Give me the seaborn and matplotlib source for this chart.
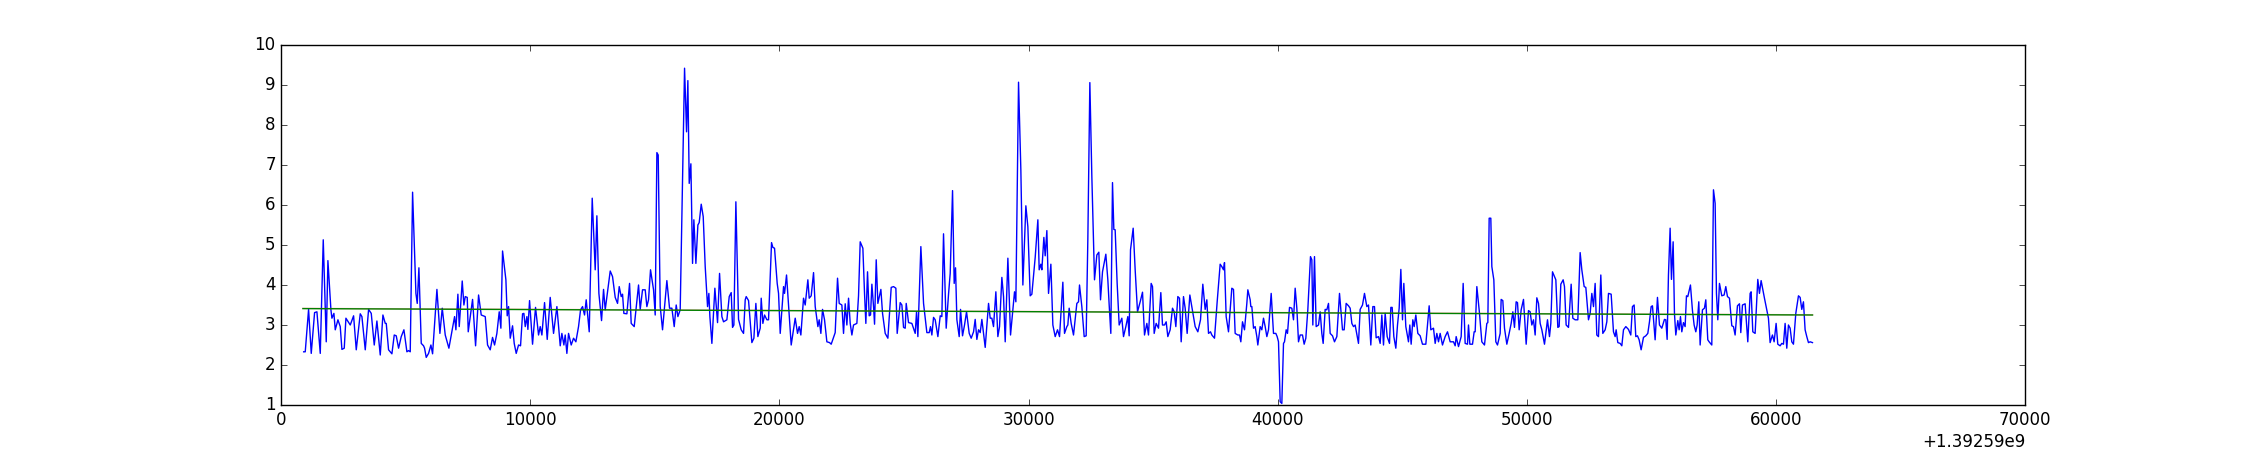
import matplotlib
matplotlib.use("Agg")
import matplotlib.pyplot as plt
from matplotlib.ticker import ScalarFormatter
import pandas as pd
import seaborn as sns

plt.style.use("classic")

# unix time base and seconds after it
t0 = 1392590000
seconds = [
    900, 963, 1097, 1204, 1338, 1432, 1566, 1686, 1806, 1873, 1994, 2034, 2114, 2168, 2275, 2368,
    2435, 2529, 2596, 2770, 2904, 3011, 3171, 3238, 3372, 3506, 3613, 3733, 3840, 3974, 4081, 4175,
    4215, 4308, 4442, 4536, 4616, 4710, 4817, 4924, 5044, 5111, 5178, 5272, 5406, 5459, 5526, 5620,
    5713, 5753, 5820, 5914, 6008, 6075, 6249, 6369, 6463, 6583, 6730, 6958, 7011, 7091, 7145, 7265,
    7332, 7386, 7466, 7506, 7680, 7801, 7921, 8028, 8189, 8282, 8389,
    8482, 8563, 8656, 8750, 8817, 8884, 9018, 9071, 9125, 9192, 9285, 9352, 9432, 9526, 9606, 9687,
    9740, 9794, 9861, 9901, 9968, 10088, 10208, 10329, 10396, 10463, 10570, 10677, 10797, 10931,
    10998, 11065, 11199, 11265, 11346, 11399, 11466, 11533, 11640, 11734, 11827, 11934, 12015, 12095,
    12175, 12242, 12363, 12483, 12603, 12670, 12751, 12858, 12938, 13005, 13206, 13299, 13406, 13500,
    13567, 13647, 13701, 13754, 13875, 13982, 14048, 14169, 14343, 14410, 14503, 14610, 14677, 14744,
    14824, 14945, 15012, 15079, 15132, 15213, 15306, 15480, 15587, 15681, 15775, 15855, 15922, 16015,
    16190, 16270, 16323, 16377, 16444, 16511, 16564, 16645, 16725, 16778, 16859, 16939, 17019, 17113,
    17166, 17207, 17287, 17407, 17514, 17595, 17688, 17755, 17889, 17983, 18063, 18116, 18170, 18250,
    18357, 18464, 18558, 18625, 18665, 18759, 18892, 18973, 19053, 19133, 19227, 19267, 19334, 19401,
    19495, 19561, 19682, 19735, 19802, 19909, 19963, 20030, 20164, 20204, 20284, 20364, 20471, 20632,
    20725, 20792, 20859, 20966, 21033, 21140, 21194, 21274, 21368, 21435, 21542, 21595, 21662, 21729,
    21809, 21903, 22010, 22077, 22237, 22331, 22398, 22505, 22572, 22639, 22706, 22773, 22840, 22907,
    22973, 23107, 23174, 23241, 23348, 23415, 23468, 23535, 23602,
    23656, 23710, 23777, 23817, 23884, 23950, 24071, 24138, 24245, 24352, 24486, 24579, 24673, 24726,
    24847, 24914, 24981, 25048, 25088, 25181, 25315, 25449, 25503, 25556, 25676, 25784, 25917, 26011,
    26064, 26118, 26185, 26252, 26359, 26453, 26519, 26586, 26693, 26787, 26854, 26948, 27014, 27068,
    27122, 27215, 27269, 27349, 27429, 27510, 27617, 27697, 27791, 27857, 27924, 27991, 28058, 28125,
    28259, 28393, 28460, 28526, 28593, 28687, 28767, 28834, 28928, 28995, 29062, 29169, 29276, 29356,
    29436, 29490, 29597, 29690, 29771, 29891, 29971, 30065, 30132, 30266, 30373, 30426, 30493, 30533,
    30614, 30667, 30734, 30801, 30895, 30975, 31069, 31162, 31243,
    31376, 31443, 31536, 31576, 31630, 31710, 31804, 31938, 32005, 32045, 32138, 32232, 32312, 32379,
    32460, 32540, 32647, 32741, 32821, 32888, 32968, 33102, 33182, 33236, 33302, 33369, 33423, 33476,
    33556, 33637, 33744, 33811, 33905, 33985, 34038, 34092, 34199, 34279, 34373, 34480, 34574, 34654,
    34748, 34814, 34921, 34975, 35042, 35122, 35216, 35309, 35376, 35457, 35524, 35590, 35684, 35778,
    35845, 35912, 35992, 36059, 36126, 36219, 36286, 36366, 36474, 36554, 36688, 36795, 36902, 36995,
    37089, 37156, 37223, 37303, 37357, 37464, 37571, 37691, 37758, 37825, 37865, 37932, 38026, 38159,
    38226, 38293, 38400, 38467, 38521, 38588, 38668, 38762, 38802, 38896,
    38922, 38963, 39030, 39096, 39163, 39203, 39297, 39364, 39431, 39498, 39565, 39632, 39739, 39832,
    39926, 39979, 40033, 40100, 40167, 40234, 40274, 40341, 40394, 40475, 40568, 40635, 40702, 40769,
    40836, 40903, 40996, 41063, 41130, 41210, 41317, 41371, 41411, 41478, 41545, 41639, 41706, 41772,
    41826, 41906, 41973, 42040, 42107, 42201, 42281, 42375, 42482, 42602, 42669, 42749, 42843, 42910,
    42977, 43044, 43110, 43244, 43311, 43405, 43485, 43579, 43646, 43739, 43820, 43886, 43953, 44047,
    44114, 44181, 44248, 44315, 44395, 44489, 44542, 44596, 44663, 44743, 44810, 44877, 44944, 45011,
    45064, 45144, 45251, 45305, 45358, 45425, 45479, 45546, 45626, 45720, 45813, 45947, 46081, 46148,
    46255, 46322, 46389, 46456, 46522,
    46616, 46723, 46817, 46924, 47058, 47125, 47165, 47259, 47366, 47446, 47526, 47620, 47660, 47714,
    47821, 47887, 47928, 47995, 48102, 48195, 48302, 48396, 48436, 48490, 48556, 48597, 48677, 48757,
    48824, 48931, 48971, 49038, 49105, 49199, 49292, 49373, 49440, 49506, 49573, 49627, 49694, 49774,
    49868, 49975, 50068, 50135, 50202, 50269, 50336, 50403, 50470, 50537, 50604, 50711, 50831, 50911,
    50965, 51032, 51112, 51166, 51246, 51299, 51366, 51460, 51513, 51580, 51674, 51781, 51848, 51942,
    52049, 52142, 52209, 52303, 52370, 52477, 52544, 52611, 52678, 52744, 52811, 52878, 52972, 53052,
    53146, 53213, 53280, 53387, 53480, 53547, 53587, 53654, 53748, 53815, 53882, 53976, 54082, 54149,
    54175, 54242, 54309, 54376, 54443, 54510, 54590, 54684, 54778, 54858, 54925, 54992, 55045, 55152,
    55246, 55326, 55420, 55527, 55580, 55634, 55687, 55754, 55808, 55875, 55928, 55982, 56062, 56116,
    56169, 56223, 56290, 56356, 56410, 56463, 56570, 56651, 56718, 56785, 56838, 56905, 56959, 57052,
    57132, 57186, 57266, 57320, 57427, 57494, 57561, 57614, 57668, 57735, 57828, 57922, 57989, 58056,
    58136, 58230, 58297, 58363, 58457, 58537, 58591, 58658, 58765, 58872, 58966, 59006, 59073, 59166,
    59273, 59340, 59407, 59541, 59635, 59701, 59768, 59862, 59929, 60009, 60076, 60170, 60237, 60304,
    60370, 60437, 60504, 60571, 60638, 60705, 60799, 60906, 60973, 61039, 61106, 61173, 61240, 61307,
    61374, 61468,
]
rate = [
    2.33, 2.33, 3.39, 2.29, 3.31, 3.33, 2.29, 5.13, 2.58, 4.61, 3.38, 3.17, 3.29, 2.88, 3.13, 2.96,
    2.39, 2.42, 3.17, 3.00, 3.23, 2.38, 3.28, 3.21, 2.38, 3.39, 3.29, 2.50, 3.10, 2.25, 3.25, 3.04,
    3.04, 2.38, 2.28, 2.75, 2.73, 2.42, 2.71, 2.88, 2.33, 2.36, 2.33, 6.32, 3.79, 3.54, 4.43, 2.54,
    2.48, 2.42, 2.19, 2.29, 2.50, 2.28, 3.89, 2.79, 3.42, 2.75, 2.42, 3.21, 2.88, 3.77, 2.96, 4.10,
    3.50, 3.71, 3.69, 2.83, 3.64, 2.48, 3.75, 3.25, 3.21, 2.50, 2.38,
    2.69, 2.50, 2.79, 3.33, 2.92, 4.85, 4.13, 3.23, 3.46, 2.67, 2.98, 2.54, 2.29, 2.50, 2.48, 3.28,
    3.29, 2.96, 3.21, 2.89, 3.61, 2.52, 3.44, 2.75, 2.96, 2.75, 3.56, 2.64, 3.69, 2.79,
    3.13, 3.46, 2.48, 2.79, 2.50, 2.75, 2.29, 2.79, 2.50, 2.67, 2.58, 2.96, 3.38, 3.46,
    3.25, 3.63, 2.83, 6.17, 4.38, 5.73, 3.79, 3.11, 3.89, 3.38, 4.35, 4.21, 3.69, 3.54,
    3.96, 3.71, 3.77, 3.29, 3.28, 4.04, 3.04, 2.96, 4.00, 3.39, 3.88, 3.88, 3.46, 3.63,
    4.38, 3.88, 3.25, 7.31, 7.25, 3.46, 2.88, 4.11, 3.42, 3.42, 2.96, 3.50, 3.21, 3.38,
    9.42, 7.83, 9.11, 6.54, 7.03, 4.54, 5.63, 4.54, 5.50, 5.56, 6.02, 5.71, 4.46, 3.46,
    3.79, 3.21, 2.54, 3.92, 3.06, 4.29, 3.21, 3.08, 3.13, 3.71, 3.81, 2.94, 3.00, 6.08,
    3.14, 2.88, 2.79, 3.63, 3.71, 3.61, 2.56, 2.67, 3.54, 2.71, 2.92, 3.67, 3.04, 3.25,
    3.13, 3.13, 5.06, 4.94, 4.92, 4.04, 3.79, 2.79, 3.96, 3.79, 4.25, 3.50, 2.50, 3.17,
    2.79, 2.96, 2.75, 3.67, 3.50, 4.13, 3.67, 3.73, 4.31, 3.46, 2.96, 3.13, 2.79, 3.39,
    3.13, 2.58, 2.56, 2.52, 2.81, 4.17, 3.54, 3.50, 2.79, 3.53, 3.00, 3.67, 3.04, 2.75,
    3.00, 3.04, 3.73, 5.08, 4.92, 3.79, 3.04, 4.33, 3.23,
    3.25, 4.02, 3.46, 3.02, 4.63, 3.54, 3.89, 3.29, 2.79, 2.67, 3.94, 3.96, 3.92, 2.79,
    3.56, 3.50, 2.94, 2.92, 3.54, 3.06, 3.04, 2.79, 3.33, 2.71, 4.96, 3.54, 2.81, 2.81,
    2.96, 2.75, 3.19, 3.13, 2.71, 3.23, 3.21, 5.28, 2.92, 3.77, 4.29, 6.36, 4.04, 4.43,
    3.13, 2.71, 3.39, 2.73, 3.00, 3.33, 2.79, 2.67, 2.83, 3.14, 2.64, 2.88, 2.81, 3.14,
    2.44, 3.54, 3.17, 3.17, 2.96, 3.83, 2.71, 2.96, 4.19, 3.71, 2.58, 4.67, 2.75, 3.29,
    3.83, 3.58, 9.07, 6.88, 4.00, 5.98, 5.46, 3.73, 3.77, 4.69, 5.63, 4.38, 4.52, 4.38,
    5.19, 4.73, 5.36, 3.79, 4.52, 3.00, 2.71, 2.88, 2.71,
    4.07, 2.79, 2.96, 3.00, 3.42, 3.04, 2.75, 3.54, 3.58, 4.00, 3.46, 2.71, 2.73, 5.13,
    9.06, 6.71, 4.13, 4.75, 4.82, 3.63, 4.33, 4.77, 4.13, 3.50, 2.79, 6.56, 5.39, 5.38,
    4.04, 3.00, 3.17, 2.71, 2.96, 3.21, 2.73, 4.88, 5.42, 4.38, 3.33, 3.58, 3.82, 2.75,
    3.04, 2.75, 4.04, 3.96, 2.79, 3.04, 2.92, 3.81, 3.00, 3.00, 3.08, 2.71, 2.88, 3.42,
    3.33, 2.96, 3.71, 3.67, 2.58, 3.71, 3.42, 2.79, 3.75, 3.46, 2.96, 2.83, 3.13, 4.02,
    3.39, 3.63, 2.79, 2.83, 2.75, 2.67, 3.58, 4.52, 4.46, 4.38, 4.56, 3.21, 2.83, 3.92,
    3.89, 2.79, 2.75, 2.75, 2.58, 3.08, 2.88, 3.54, 3.88, 3.63,
    3.46, 3.46, 2.92, 2.96, 2.71, 2.50, 2.96, 2.88, 3.17, 2.96, 2.71, 2.88, 3.79, 2.79,
    2.79, 2.71, 2.58, 1.08, 1.04, 2.54, 2.58, 2.88, 2.79, 3.44, 3.42, 3.13, 3.92, 3.42,
    2.58, 2.75, 2.75, 2.52, 2.67, 3.38, 4.71, 4.63, 3.00, 4.71, 2.96, 3.00, 3.33, 2.79,
    2.54, 3.39, 3.38, 3.54, 2.79, 2.73, 2.58, 2.71, 3.79, 2.88, 2.88, 3.54, 3.48, 3.42,
    3.04, 2.96, 3.00, 2.54, 3.39, 3.50, 3.79, 3.46, 3.50, 2.50, 3.46, 3.46, 2.68, 2.71,
    2.54, 3.25, 2.50, 3.29, 2.71, 2.54, 3.44, 3.44, 2.71, 2.42, 3.00, 3.42, 4.39, 3.13,
    4.04, 2.96, 2.58, 3.00, 2.52, 3.13, 2.96, 3.25, 2.79, 2.73, 2.52, 2.52, 3.48, 2.88,
    2.92, 2.54, 2.79, 2.58, 2.79,
    2.50, 2.71, 2.83, 2.58, 2.58, 2.48, 2.71, 2.46, 2.71, 4.04, 2.54, 2.52, 3.00, 2.52,
    2.52, 2.83, 2.83, 3.96, 3.29, 2.58, 2.50, 3.04, 3.06, 5.67, 5.67, 4.46, 4.13, 2.58,
    2.50, 2.79, 3.64, 3.61, 2.92, 2.52, 2.79, 3.04, 3.33, 2.94, 3.58, 3.56, 2.88, 3.38,
    3.64, 2.52, 3.36, 3.33, 3.00, 3.13, 2.75, 3.68, 3.54, 3.04, 2.88, 2.52, 3.13, 2.71,
    3.04, 4.33, 4.21, 4.13, 2.94, 2.96, 4.02, 4.13, 3.96, 3.00, 2.94, 4.02, 3.17, 3.13,
    3.13, 4.81, 4.38, 3.96, 3.94, 3.13, 3.29, 3.79, 3.46, 4.04, 2.75, 2.71, 4.25, 2.79,
    2.88, 3.08, 3.79, 3.77, 2.83, 2.71, 2.88, 2.56, 2.54, 2.48, 2.88, 2.96, 2.89, 2.79,
    2.75, 3.46, 3.50, 2.71, 2.73, 2.63, 2.38, 2.69, 2.73, 2.79, 3.08, 3.46, 3.48, 2.63,
    3.69, 3.00, 2.92, 3.14, 3.13, 2.64, 4.25, 5.42, 4.14, 5.08, 3.29, 2.75, 3.11, 2.88,
    3.21, 2.83, 3.06, 2.96, 3.73, 3.71, 4.00, 3.36, 3.00, 2.83, 3.00, 3.58, 2.50, 3.38,
    3.42, 3.63, 2.63, 2.58, 2.50, 6.38, 6.04, 3.79, 3.13, 4.04, 3.73, 3.75, 3.96, 3.71,
    3.67, 2.98, 2.96, 2.75, 3.48, 3.53, 2.81, 3.50, 3.53, 2.58, 3.79, 3.83, 2.83, 2.79,
    4.14, 3.79, 4.11, 3.67, 3.38, 3.17, 2.56, 2.75, 2.58, 3.04, 2.52, 2.48, 2.54, 2.52,
    3.04, 2.42, 3.00, 2.92, 2.58, 2.52, 3.29, 3.73, 3.69, 3.39, 3.58, 2.88, 2.71, 2.56,
    2.58, 2.56,
]

# linear trend drawn over the series
trend_seconds = [870, 61470]
trend_red = [3.415, 3.255]
trend_green = [3.41, 3.25]

df = pd.DataFrame({"t": [t0 + s for s in seconds], "rate": rate})
trend = pd.DataFrame({"t": [t0 + s for s in trend_seconds],
                      "red": trend_red, "green": trend_green})

fig, ax = plt.subplots(figsize=(22.5, 4.5), dpi=100)
sns.lineplot(data=df, x="t", y="rate", color="b", lw=1.0,
             estimator=None, sort=False, ax=ax)
sns.lineplot(data=trend, x="t", y="red", color="r", lw=1.0, alpha=0.35,
             estimator=None, ax=ax)
sns.lineplot(data=trend, x="t", y="green", color="g", lw=1.0,
             estimator=None, ax=ax)

ax.set_xlim(t0, t0 + 70000)
ax.set_ylim(1, 10)
ax.xaxis.set_major_formatter(ScalarFormatter(useOffset=t0))
ax.set_xlabel("")
ax.set_ylabel("")

fig.savefig("out.png", dpi=100)
